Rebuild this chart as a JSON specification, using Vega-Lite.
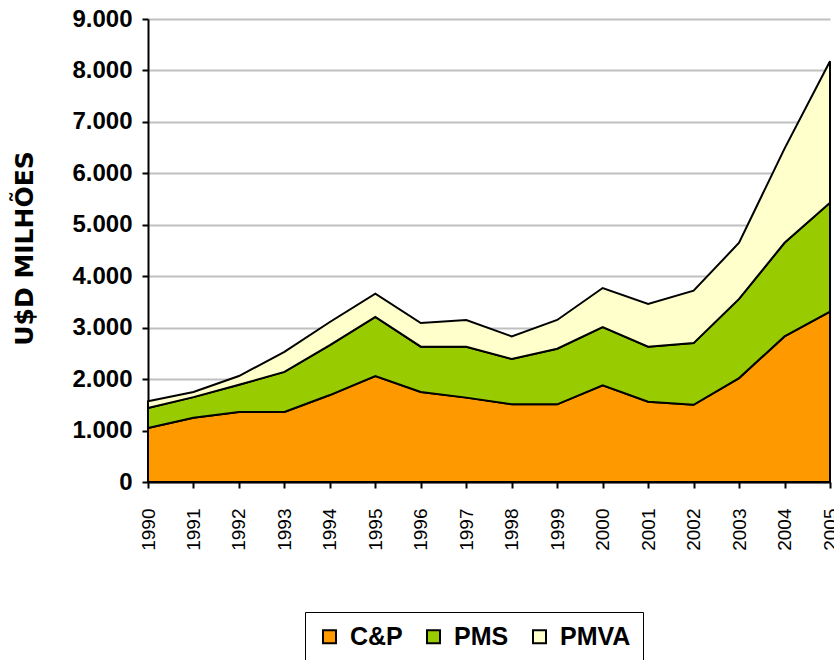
{
  "$schema": "https://vega.github.io/schema/vega-lite/v6.json",
  "width": 682,
  "height": 463,
  "autosize": {"type": "none"},
  "padding": {"left": 148, "top": 19, "right": 4, "bottom": 178},
  "background": "white",
  "config": {"view": {"stroke": null}},
  "data": {
    "values": [
      {"ano": "1990", "serie": "C&P", "valor": 1050},
      {"ano": "1991", "serie": "C&P", "valor": 1250},
      {"ano": "1992", "serie": "C&P", "valor": 1360},
      {"ano": "1993", "serie": "C&P", "valor": 1360},
      {"ano": "1994", "serie": "C&P", "valor": 1690},
      {"ano": "1995", "serie": "C&P", "valor": 2060},
      {"ano": "1996", "serie": "C&P", "valor": 1750},
      {"ano": "1997", "serie": "C&P", "valor": 1640},
      {"ano": "1998", "serie": "C&P", "valor": 1510},
      {"ano": "1999", "serie": "C&P", "valor": 1510},
      {"ano": "2000", "serie": "C&P", "valor": 1880},
      {"ano": "2001", "serie": "C&P", "valor": 1560},
      {"ano": "2002", "serie": "C&P", "valor": 1500},
      {"ano": "2003", "serie": "C&P", "valor": 2020},
      {"ano": "2004", "serie": "C&P", "valor": 2830},
      {"ano": "2005", "serie": "C&P", "valor": 3310},
      {"ano": "1990", "serie": "PMS", "valor": 390},
      {"ano": "1991", "serie": "PMS", "valor": 400},
      {"ano": "1992", "serie": "PMS", "valor": 530},
      {"ano": "1993", "serie": "PMS", "valor": 780},
      {"ano": "1994", "serie": "PMS", "valor": 970},
      {"ano": "1995", "serie": "PMS", "valor": 1150},
      {"ano": "1996", "serie": "PMS", "valor": 880},
      {"ano": "1997", "serie": "PMS", "valor": 990},
      {"ano": "1998", "serie": "PMS", "valor": 880},
      {"ano": "1999", "serie": "PMS", "valor": 1080},
      {"ano": "2000", "serie": "PMS", "valor": 1130},
      {"ano": "2001", "serie": "PMS", "valor": 1070},
      {"ano": "2002", "serie": "PMS", "valor": 1200},
      {"ano": "2003", "serie": "PMS", "valor": 1540},
      {"ano": "2004", "serie": "PMS", "valor": 1820},
      {"ano": "2005", "serie": "PMS", "valor": 2120},
      {"ano": "1990", "serie": "PMVA", "valor": 130},
      {"ano": "1991", "serie": "PMVA", "valor": 100},
      {"ano": "1992", "serie": "PMVA", "valor": 170},
      {"ano": "1993", "serie": "PMVA", "valor": 390},
      {"ano": "1994", "serie": "PMVA", "valor": 450},
      {"ano": "1995", "serie": "PMVA", "valor": 450},
      {"ano": "1996", "serie": "PMVA", "valor": 460},
      {"ano": "1997", "serie": "PMVA", "valor": 520},
      {"ano": "1998", "serie": "PMVA", "valor": 440},
      {"ano": "1999", "serie": "PMVA", "valor": 560},
      {"ano": "2000", "serie": "PMVA", "valor": 760},
      {"ano": "2001", "serie": "PMVA", "valor": 830},
      {"ano": "2002", "serie": "PMVA", "valor": 1020},
      {"ano": "2003", "serie": "PMVA", "valor": 1090},
      {"ano": "2004", "serie": "PMVA", "valor": 1830},
      {"ano": "2005", "serie": "PMVA", "valor": 2750}
    ]
  },
  "mark": {"type": "area", "stroke": "black", "strokeWidth": 2, "strokeJoin": "miter", "opacity": 1},
  "encoding": {
    "x": {
      "field": "ano",
      "type": "ordinal",
      "scale": {"type": "point", "padding": 0},
      "axis": {
        "title": null,
        "labelAngle": -90,
        "labelFont": "Liberation Sans",
        "labelFontSize": 19,
        "labelColor": "black",
        "labelPadding": 20,
        "tickColor": "black",
        "tickSize": 6,
        "tickWidth": 2,
        "domainColor": "black",
        "domainWidth": 2,
        "grid": false
      }
    },
    "y": {
      "field": "valor",
      "type": "quantitative",
      "stack": "zero",
      "scale": {"domain": [0, 9000], "nice": false},
      "axis": {
        "values": [0, 1000, 2000, 3000, 4000, 5000, 6000, 7000, 8000, 9000],
        "labelExpr": "replace(format(datum.value, ','), ',', '.')",
        "labelFont": "Liberation Sans",
        "labelFontSize": 24,
        "labelFontWeight": "bold",
        "labelColor": "black",
        "labelPadding": 10,
        "tickColor": "black",
        "tickSize": 6,
        "tickWidth": 2,
        "domainColor": "black",
        "domainWidth": 2,
        "grid": true,
        "gridColor": "#c0c0c0",
        "gridWidth": 2,
        "title": "U$D MILHÕES",
        "titleFont": "DejaVu Sans",
        "titleFontSize": 25,
        "titleFontWeight": "bold",
        "titleColor": "black",
        "titleAngle": -90,
        "titleAlign": "center",
        "titleBaseline": "middle",
        "titleX": -124,
        "titleY": 229
      }
    },
    "fill": {
      "field": "serie",
      "type": "nominal",
      "scale": {"domain": ["C&P", "PMS", "PMVA"], "range": ["#FF9900", "#99CC00", "#FFFFCC"]},
      "legend": {
        "title": null,
        "orient": "none",
        "legendX": 157,
        "legendY": 593,
        "direction": "horizontal",
        "strokeColor": "black",
        "padding": 12,
        "symbolType": "square",
        "symbolSize": 169,
        "symbolStrokeColor": "black",
        "symbolStrokeWidth": 2,
        "symbolOpacity": 1,
        "labelFont": "Liberation Sans",
        "labelFontSize": 25,
        "labelFontWeight": "bold",
        "labelColor": "black",
        "labelOffset": 8,
        "columnPadding": 18
      }
    },
    "order": {"field": "serie", "sort": "ascending"}
  }
}
